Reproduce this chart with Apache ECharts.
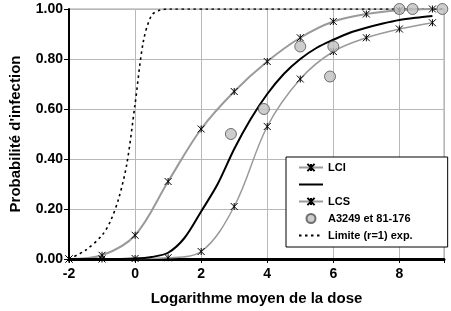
<!DOCTYPE html>
<html><head><meta charset="utf-8">
<script src="https://cdn.jsdelivr.net/npm/echarts@6/dist/echarts.min.js"></script>
<style>html,body{margin:0;padding:0;background:#fff}#c{width:451px;height:311px}</style>
</head><body><div id="c"></div>
<script>
const xTicks = [-2, 0, 2, 4, 6, 8];
const yTicks = [0, 0.2, 0.4, 0.6, 0.8, 1.0];
const xInt = [-2, -1, 0, 1, 2, 3, 4, 5, 6, 7, 8, 9];
const lci = [0.00, 0.015, 0.095, 0.31, 0.52, 0.67, 0.79, 0.885, 0.95, 0.98, 0.995, 1.00];
const lcs = [0.00, 0.00, 0.002, 0.005, 0.03, 0.21, 0.53, 0.72, 0.83, 0.885, 0.92, 0.945];
const midX = [-2, -1, 0, 0.5, 1, 1.5, 2, 2.5, 3, 3.5, 4, 4.5, 5, 5.5, 6, 6.5, 7, 7.5, 8, 8.5, 9];
const midY = [0, 0, 0.002, 0.008, 0.025, 0.085, 0.19, 0.30, 0.44, 0.56, 0.66, 0.74, 0.80, 0.845, 0.877, 0.905, 0.925, 0.942, 0.956, 0.965, 0.972];
const limX = [-2, -1.5, -1, -0.75, -0.5, -0.25, 0, 0.25, 0.5, 0.75, 1, 9.3];
const limY = [0, 0.035, 0.095, 0.15, 0.24, 0.38, 0.62, 0.87, 0.975, 0.995, 1, 1];
const obsX = [2.9, 3.9, 5.0, 6.0, 5.9, 8.0, 8.4, 9.3];
const obsY = [0.50, 0.60, 0.85, 0.85, 0.73, 1.00, 1.00, 1.00];
const names = ['LCI', ' ', 'LCS', 'A3249 et 81-176', 'Limite (r=1) exp.'];

const zip = (a, b) => a.map((v, i) => [v, b[i]]);
const FONT = "'Liberation Sans', Arial, sans-serif";
const star = 'path://M0,0L10,10M10,0L0,10M5,0L5,10';
const hidden = {opacity: 0};

const chart = echarts.init(document.getElementById('c'), null, {renderer: 'canvas'});
chart.setOption({
  animation: false,
  backgroundColor: '#fff',
  grid: {left: 64, right: 7, top: 9, bottom: 49, show: true, borderColor: '#a0a0a0', borderWidth: 1},
  xAxis: {
    type: 'value', min: -2, max: 9.35, interval: 2,
    name: 'Logarithme moyen de la dose', nameLocation: 'middle', nameGap: 32,
    nameTextStyle: {fontFamily: FONT, fontWeight: 'bold', fontSize: 15, color: '#000'},
    axisLine: {show: true, onZero: false, lineStyle: {color: '#000', width: 3}},
    axisTick: {show: true, length: 4, lineStyle: {color: '#000', width: 1}},
    axisLabel: {fontFamily: FONT, fontWeight: 'bold', fontSize: 14, color: '#000', margin: 8,
      formatter: v => xTicks.includes(v) ? String(v) : ''},
    splitLine: {show: true, lineStyle: {color: '#b8b8b8', width: 1}}
  },
  yAxis: {
    type: 'value', min: 0, max: 1, interval: 0.2,
    name: "Probabilité d'infection", nameLocation: 'middle', nameGap: 46,
    nameTextStyle: {fontFamily: FONT, fontWeight: 'bold', fontSize: 15, color: '#000'},
    axisLine: {show: true, onZero: false, lineStyle: {color: '#000', width: 2}},
    axisTick: {show: true, length: 5, lineStyle: {color: '#000', width: 1}},
    axisLabel: {fontFamily: FONT, fontWeight: 'bold', fontSize: 14, color: '#000', margin: 6,
      formatter: v => v.toFixed(2)},
    splitLine: {show: true, lineStyle: {color: '#b8b8b8', width: 1}}
  },
  legend: {
    orient: 'vertical', left: 286, top: 157,
    data: [
      {name: names[0]},
      {name: names[1], itemStyle: hidden},
      {name: names[2]},
      {name: names[3]},
      {name: names[4], itemStyle: hidden}
    ],
    backgroundColor: '#fff', borderColor: '#000', borderWidth: 1,
    padding: [4, 35, 5, 12], itemGap: 4, itemWidth: 24, itemHeight: 9,
    textStyle: {fontFamily: FONT, fontWeight: 'bold', fontSize: 11, color: '#000', lineHeight: 13}
  },
  series: [
    {name: 'LCI', type: 'line', data: zip(xInt, lci), smooth: 0.35,
      symbol: star, symbolSize: 7,
      itemStyle: {color: '#000', borderColor: '#000', borderWidth: 1},
      lineStyle: {color: '#9a9a9a', width: 2}, z: 3},
    {name: ' ', type: 'line', data: zip(midX, midY), smooth: 0.3, symbol: 'none',
      itemStyle: {color: '#000'},
      lineStyle: {color: '#000', width: 2}, z: 4},
    {name: 'LCS', type: 'line', data: zip(xInt, lcs), smooth: 0.35,
      symbol: star, symbolSize: 7,
      itemStyle: {color: '#000', borderColor: '#000', borderWidth: 1},
      lineStyle: {color: '#9a9a9a', width: 1.5}, z: 3},
    {name: 'A3249 et 81-176', type: 'scatter', data: zip(obsX, obsY),
      symbol: 'circle', symbolSize: 11,
      itemStyle: {color: '#c0c0c0', borderColor: '#505050', borderWidth: 1}, z: 5},
    {name: 'Limite (r=1) exp.', type: 'line', data: zip(limX, limY), smooth: 0.3, symbol: 'none',
      itemStyle: {color: '#000'},
      lineStyle: {color: '#000', width: 1.6, type: [2.5, 3.5]}, z: 2}
  ]
});
</script></body></html>
